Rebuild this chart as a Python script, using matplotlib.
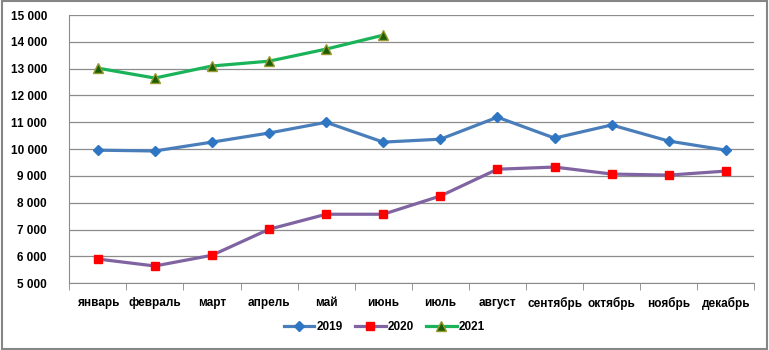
import matplotlib.pyplot as plt
from matplotlib.ticker import FuncFormatter, FixedLocator

plt.rcParams['font.family'] = ['Liberation Sans', 'DejaVu Sans']

months = ['январь', 'февраль', 'март', 'апрель', 'май', 'июнь',
          'июль', 'август', 'сентябрь', 'октябрь', 'ноябрь', 'декабрь']
y2019 = [9960, 9930, 10260, 10600, 11000, 10260, 10370, 11190, 10410, 10900, 10300, 9960]
y2020 = [5900, 5640, 6040, 7010, 7570, 7570, 8250, 9250, 9330, 9070, 9030, 9180]
y2021 = [13020, 12650, 13100, 13280, 13730, 14250]

fig = plt.figure(figsize=(7.69, 3.5), dpi=100)
ax = fig.add_axes([0.09, 0.191, 0.891, 0.766])

x = list(range(len(months)))
ax.plot(x, y2019, color='#4a7ebb', lw=2.3, marker='D', ms=5.5,
        mfc='#2e75c4', mec='#2e75c4', label='2019', zorder=3)
ax.plot(x, y2020, color='#8064a2', lw=2.3, marker='s', ms=5.5,
        mfc='#ff0000', mec='#ff0000', label='2020', zorder=3)
ax.plot(x[:len(y2021)], y2021, color='#1ab35a', lw=2.3, marker='^', ms=7,
        mfc='#1a5e05', mec='#9a9a30', label='2021', zorder=4)

ax.set_xlim(-0.5, 11.5)
ax.set_ylim(5000, 15000)
ax.set_yticks(range(5000, 15001, 1000))
ax.yaxis.set_major_formatter(FuncFormatter(lambda v, p: f'{int(v):,}'.replace(',', ' ')))
ax.set_xticks(x)
ax.set_xticklabels(months)
ax.xaxis.set_minor_locator(FixedLocator([i - 0.5 for i in range(13)]))
ax.tick_params(axis='x', which='major', length=0, pad=10)
ax.tick_params(axis='x', which='minor', length=5, color='#868686')
ax.tick_params(axis='y', length=0, pad=16)
for lbl in ax.get_xticklabels() + ax.get_yticklabels():
    lbl.set_fontsize(8.5)
    lbl.set_fontweight('bold')

ax.grid(axis='y', color='#8c8c8c', lw=0.9)
ax.set_axisbelow(True)
for s in ['top', 'right']:
    ax.spines[s].set_visible(False)
ax.spines['left'].set_color('#8c8c8c')
ax.spines['bottom'].set_color('#8c8c8c')

leg = fig.legend(loc='center', bbox_to_anchor=(0.5, 0.065), ncol=3, frameon=False,
                 prop={'size': 8.5, 'weight': 'bold'}, handlelength=2.6, columnspacing=1.0,
                 handletextpad=0.2)

fig.patches.append(plt.Rectangle((0.002, 0.003), 0.996, 0.994, transform=fig.transFigure,
                                 fill=False, edgecolor='#868686', lw=1.5))
fig.savefig('out.png', dpi=100)
